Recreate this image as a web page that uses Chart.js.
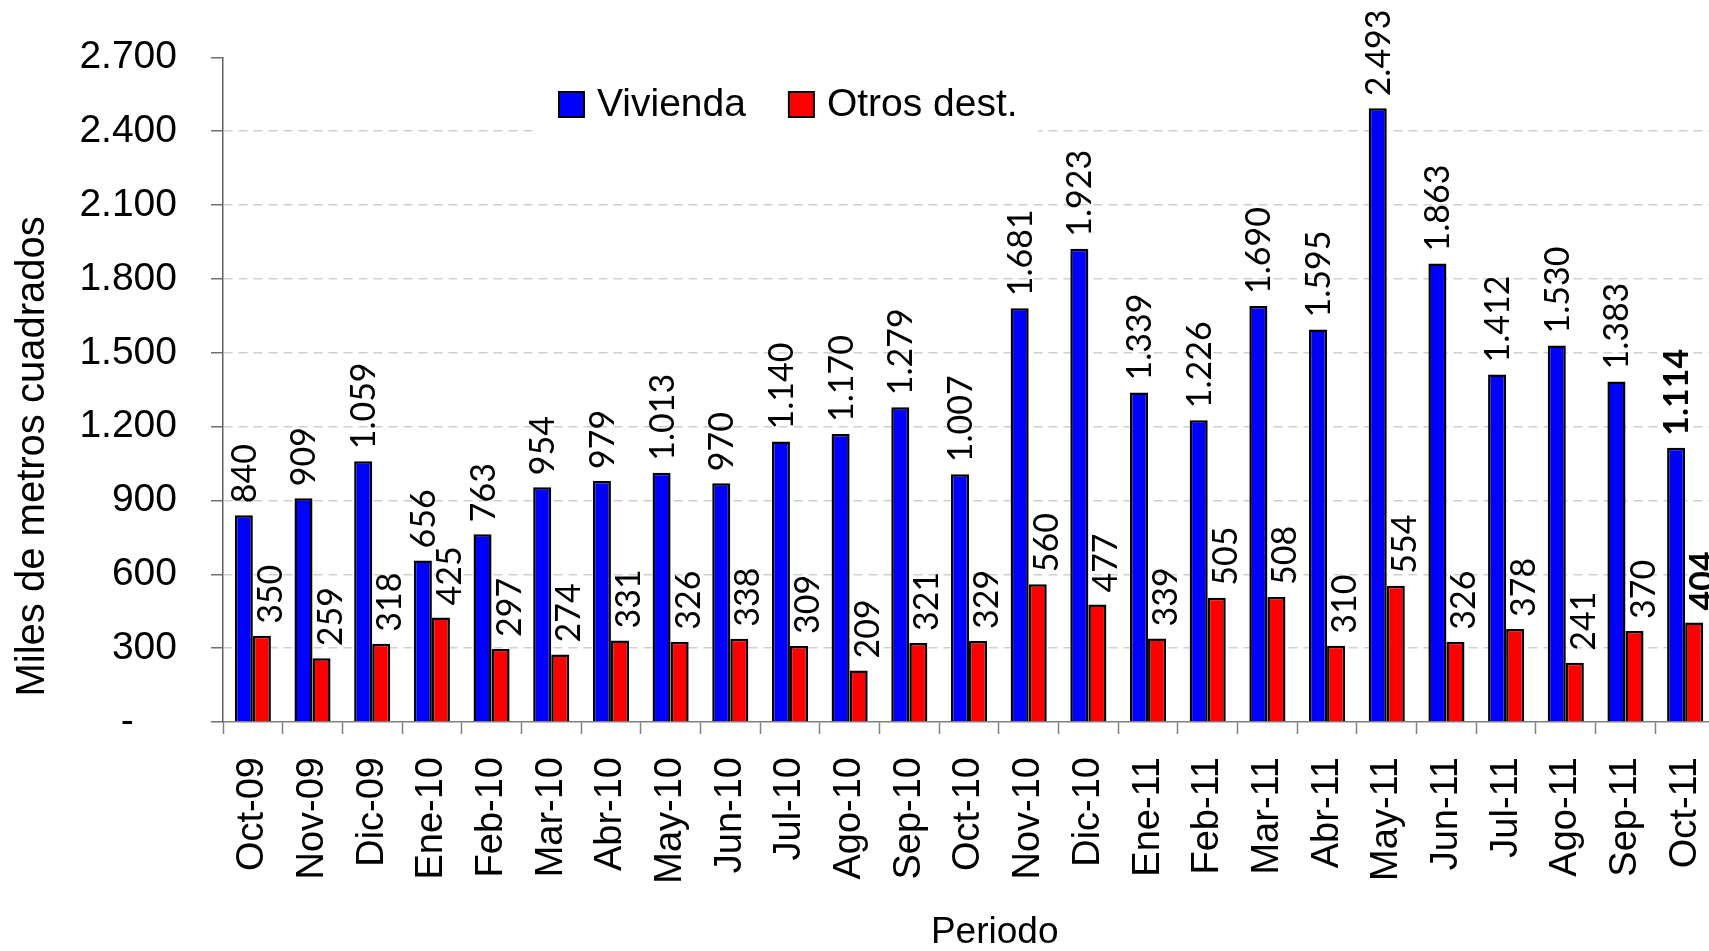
<!DOCTYPE html>
<html>
<head>
<meta charset="utf-8">
<script src="https://cdn.jsdelivr.net/npm/chart.js@4.4.0/dist/chart.umd.min.js"></script>
<style>
  html, body { margin: 0; padding: 0; background: #fff; overflow: hidden; }
  #wrap { width: 1709px; height: 951px; overflow: hidden; }
</style>
</head>
<body>
<div id="wrap"><canvas id="myChart" width="1715" height="951"></canvas></div>
<script>
var periodos = ['Oct-09', 'Nov-09', 'Dic-09', 'Ene-10', 'Feb-10', 'Mar-10', 'Abr-10', 'May-10', 'Jun-10',
    'Jul-10', 'Ago-10', 'Sep-10', 'Oct-10', 'Nov-10', 'Dic-10', 'Ene-11', 'Feb-11', 'Mar-11', 'Abr-11',
    'May-11', 'Jun-11', 'Jul-11', 'Ago-11', 'Sep-11', 'Oct-11'];
var vivienda = [840, 909, 1059, 656, 763, 954, 979, 1013, 970, 1140, 1170, 1279, 1007, 1681, 1923,
    1339, 1226, 1690, 1595, 2493, 1863, 1412, 1530, 1383, 1114];
var otros = [350, 259, 318, 425, 297, 274, 331, 326, 338, 309, 209, 321, 329, 560, 477,
    339, 505, 508, 310, 554, 326, 378, 241, 370, 404];
var ticksY = [0, 300, 600, 900, 1200, 1500, 1800, 2100, 2400, 2700];

// 2700 -> "2.700", 0 -> "-" (formato contable)
function miles(v) {
    if (v === 0) return '-    ';
    return String(v).replace(/\B(?=(\d{3})+(?!\d))/g, '.');
}

// valores encima de cada barra, en vertical
var etiquetas = {
    id: 'etiquetas',
    afterDatasetsDraw: function(chart) {
        var ctx = chart.ctx;
        chart.data.datasets.forEach(function(ds, i) {
            var meta = chart.getDatasetMeta(i);
            meta.data.forEach(function(bar, j) {
                var ultimo = j === periodos.length - 1;
                ctx.save();
                ctx.font = (ultimo ? 'bold ' : '') + '34px Lato';
                ctx.fillStyle = '#000';
                ctx.textAlign = 'left';
                ctx.textBaseline = 'alphabetic';
                ctx.translate(bar.x + (i === 1 ? 8 : 0) + 12, bar.y - 12);
                ctx.rotate(-Math.PI / 2);
                ctx.fillText(miles(ds.data[j]), 0, 0);
                ctx.restore();
            });
        });
    }
};

// leyenda dentro del area del grafico, con fondo blanco
var leyenda = {
    id: 'leyenda',
    beforeDatasetsDraw: function(chart) {
        var ctx = chart.ctx;
        ctx.save();
        ctx.fillStyle = '#fff';
        ctx.fillRect(538, 72, 500, 64);
        ctx.font = '39px "Liberation Sans", Arial';
        ctx.textBaseline = 'middle';
        ctx.textAlign = 'left';
        var x = 559, y = 104;
        chart.data.datasets.forEach(function(ds) {
            ctx.fillStyle = ds.backgroundColor;
            ctx.fillRect(x, y - 12, 25, 25);
            ctx.lineWidth = 2;
            ctx.strokeStyle = '#000';
            ctx.strokeRect(x, y - 12, 25, 25);
            ctx.fillStyle = '#000';
            ctx.fillText(ds.label, x + 38, y + 1);
            x += 38 + ctx.measureText(ds.label).width + 43;
        });
        ctx.restore();
    }
};

var ctx = document.getElementById('myChart').getContext('2d');
var myChart = new Chart(ctx, {
    type: 'bar',
    data: {
        labels: periodos,
        datasets: [{
            label: 'Vivienda',
            data: vivienda,
            backgroundColor: '#0000ff',
            borderColor: '#000',
            borderWidth: 2.5,
            categoryPercentage: 0.605,
            barPercentage: 1
        }, {
            label: 'Otros dest.',
            data: otros,
            backgroundColor: '#ff0000',
            borderColor: '#000',
            borderWidth: 2.5,
            categoryPercentage: 0.605,
            barPercentage: 1
        }]
    },
    options: {
        responsive: false,
        animation: false,
        devicePixelRatio: 1,
        layout: { padding: { top: 51, left: 0, right: 0, bottom: 0 } },
        plugins: {
            legend: { display: false },
            tooltip: { enabled: false }
        },
        scales: {
            x: {
                afterFit: function(s) {
                    s.height = 229;
                    s.paddingLeft = 0;
                    s.paddingRight = 0;
                },
                border: { color: '#808080', width: 1.5 },
                grid: {
                    offset: true,
                    drawOnChartArea: false,
                    drawTicks: true,
                    tickLength: 12,
                    tickColor: '#808080',
                    tickWidth: 1.5
                },
                ticks: {
                    autoSkip: false,
                    maxRotation: 90,
                    minRotation: 90,
                    padding: 23,
                    color: '#000',
                    font: { family: '"Liberation Sans", Arial', size: 38 }
                },
                title: {
                    display: true,
                    text: '     Periodo',
                    color: '#000',
                    font: { family: '"Liberation Sans", Arial', size: 37, lineHeight: 1 },
                    padding: { top: 0, bottom: 0 }
                }
            },
            y: {
                min: 0,
                max: 2700,
                afterBuildTicks: function(s) {
                    s.ticks = ticksY.map(function(v) { return { value: v }; });
                },
                afterFit: function(s) { s.width = 223; },
                border: { display: true, color: '#606060', width: 1.5, dash: [9, 6] },
                grid: {
                    color: function(c) {
                        if (c.tick && (c.tick.value === 0 || c.tick.value === 2700)) return 'rgba(0,0,0,0)';
                        return '#cfcfcf';
                    },
                    lineWidth: 1.5,
                    drawTicks: true,
                    tickLength: 12,
                    tickColor: '#707070',
                    tickWidth: 1.5
                },
                ticks: {
                    padding: 34,
                    color: '#000',
                    font: { family: '"Liberation Sans", Arial', size: 39 },
                    callback: function(v) { return miles(v); }
                },
                title: {
                    display: true,
                    text: 'Miles de metros cuadrados            ',
                    color: '#000',
                    font: { family: '"Liberation Sans", Arial', size: 40, lineHeight: 1 },
                    padding: { top: 13, bottom: 0 }
                }
            }
        }
    },
    plugins: [leyenda, etiquetas]
});
</script>
</body>
</html>
